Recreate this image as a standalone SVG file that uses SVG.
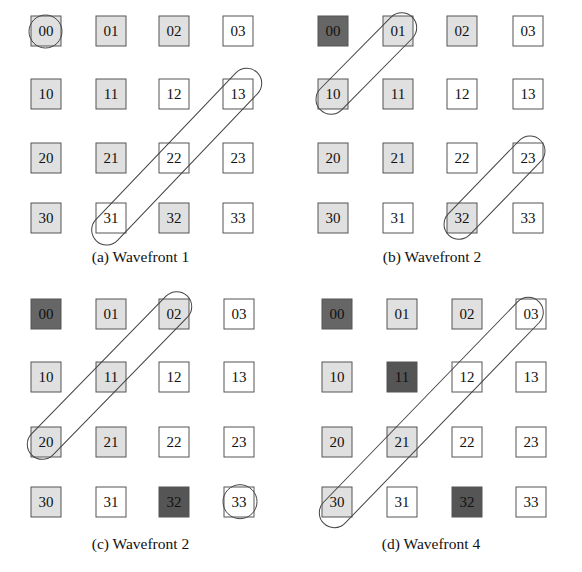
<svg xmlns="http://www.w3.org/2000/svg" width="582" height="572" viewBox="0 0 582 572">
<style>
rect.c{stroke:#555;stroke-width:1;width:30px;height:30px}
.w{fill:#fff}
.l{fill:#e0e0e0}
.d{fill:#666}
.dd{fill:#555}
text{font-family:"Liberation Serif","Times New Roman",serif;font-size:15px;fill:#111;text-anchor:middle}
text.cap{font-size:15.5px}
.wf{fill:none;stroke:#444;stroke-width:1}
</style>
<rect width="582" height="572" fill="#fff"/>
<!-- Panel a -->
<g id="panel-a">
<g id="a00"><rect class="c l" x="31" y="16" width="30" height="30"/><text x="46" y="36">00</text></g>
<g id="a01"><rect class="c l" x="96" y="16" width="30" height="30"/><text x="111" y="36">01</text></g>
<g id="a02"><rect class="c l" x="159" y="16" width="30" height="30"/><text x="174" y="36">02</text></g>
<g id="a03"><rect class="c w" x="223" y="16" width="30" height="30"/><text x="238" y="36">03</text></g>
<g id="a10"><rect class="c l" x="31" y="79" width="30" height="30"/><text x="46" y="99">10</text></g>
<g id="a11"><rect class="c l" x="96" y="79" width="30" height="30"/><text x="111" y="99">11</text></g>
<g id="a12"><rect class="c w" x="159" y="79" width="30" height="30"/><text x="174" y="99">12</text></g>
<g id="a13"><rect class="c w" x="223" y="79" width="30" height="30"/><text x="238" y="99">13</text></g>
<g id="a20"><rect class="c l" x="31" y="143" width="30" height="30"/><text x="46" y="163">20</text></g>
<g id="a21"><rect class="c l" x="96" y="143" width="30" height="30"/><text x="111" y="163">21</text></g>
<g id="a22"><rect class="c w" x="159" y="143" width="30" height="30"/><text x="174" y="163">22</text></g>
<g id="a23"><rect class="c w" x="223" y="143" width="30" height="30"/><text x="238" y="163">23</text></g>
<g id="a30"><rect class="c l" x="31" y="203" width="30" height="30"/><text x="46" y="223">30</text></g>
<g id="a31"><rect class="c w" x="96" y="203" width="30" height="30"/><text x="111" y="223">31</text></g>
<g id="a32"><rect class="c l" x="159" y="203" width="30" height="30"/><text x="174" y="223">32</text></g>
<g id="a33"><rect class="c w" x="223" y="203" width="30" height="30"/><text x="238" y="223">33</text></g>
<text class="cap" x="140.5" y="262">(a) Wavefront 1</text>
</g>
<!-- Panel b -->
<g id="panel-b">
<g id="b00"><rect class="c d" x="318" y="16" width="30" height="30"/><text x="333" y="36">00</text></g>
<g id="b01"><rect class="c l" x="383" y="16" width="30" height="30"/><text x="398" y="36">01</text></g>
<g id="b02"><rect class="c l" x="447" y="16" width="30" height="30"/><text x="462" y="36">02</text></g>
<g id="b03"><rect class="c w" x="513" y="16" width="30" height="30"/><text x="528" y="36">03</text></g>
<g id="b10"><rect class="c l" x="318" y="79" width="30" height="30"/><text x="333" y="99">10</text></g>
<g id="b11"><rect class="c l" x="383" y="79" width="30" height="30"/><text x="398" y="99">11</text></g>
<g id="b12"><rect class="c w" x="447" y="79" width="30" height="30"/><text x="462" y="99">12</text></g>
<g id="b13"><rect class="c w" x="513" y="79" width="30" height="30"/><text x="528" y="99">13</text></g>
<g id="b20"><rect class="c l" x="318" y="143" width="30" height="30"/><text x="333" y="163">20</text></g>
<g id="b21"><rect class="c l" x="383" y="143" width="30" height="30"/><text x="398" y="163">21</text></g>
<g id="b22"><rect class="c w" x="447" y="143" width="30" height="30"/><text x="462" y="163">22</text></g>
<g id="b23"><rect class="c w" x="513" y="143" width="30" height="30"/><text x="528" y="163">23</text></g>
<g id="b30"><rect class="c l" x="318" y="203" width="30" height="30"/><text x="333" y="223">30</text></g>
<g id="b31"><rect class="c w" x="383" y="203" width="30" height="30"/><text x="398" y="223">31</text></g>
<g id="b32"><rect class="c l" x="447" y="203" width="30" height="30"/><text x="462" y="223">32</text></g>
<g id="b33"><rect class="c w" x="513" y="203" width="30" height="30"/><text x="528" y="223">33</text></g>
<text class="cap" x="432" y="262">(b) Wavefront 2</text>
</g>
<!-- Panel c -->
<g id="panel-c">
<g id="c00"><rect class="c d" x="31" y="299" width="30" height="30"/><text x="46" y="319">00</text></g>
<g id="c01"><rect class="c l" x="96" y="299" width="30" height="30"/><text x="111" y="319">01</text></g>
<g id="c02"><rect class="c l" x="159" y="299" width="30" height="30"/><text x="174" y="319">02</text></g>
<g id="c03"><rect class="c w" x="224" y="299" width="30" height="30"/><text x="239" y="319">03</text></g>
<g id="c10"><rect class="c l" x="31" y="362" width="30" height="30"/><text x="46" y="382">10</text></g>
<g id="c11"><rect class="c l" x="96" y="362" width="30" height="30"/><text x="111" y="382">11</text></g>
<g id="c12"><rect class="c w" x="159" y="362" width="30" height="30"/><text x="174" y="382">12</text></g>
<g id="c13"><rect class="c w" x="224" y="362" width="30" height="30"/><text x="239" y="382">13</text></g>
<g id="c20"><rect class="c l" x="31" y="427" width="30" height="30"/><text x="46" y="447">20</text></g>
<g id="c21"><rect class="c l" x="96" y="427" width="30" height="30"/><text x="111" y="447">21</text></g>
<g id="c22"><rect class="c w" x="159" y="427" width="30" height="30"/><text x="174" y="447">22</text></g>
<g id="c23"><rect class="c w" x="224" y="427" width="30" height="30"/><text x="239" y="447">23</text></g>
<g id="c30"><rect class="c l" x="31" y="487" width="30" height="30"/><text x="46" y="507">30</text></g>
<g id="c31"><rect class="c w" x="96" y="487" width="30" height="30"/><text x="111" y="507">31</text></g>
<g id="c32"><rect class="c dd" x="159" y="487" width="30" height="30"/><text x="174" y="507">32</text></g>
<g id="c33"><rect class="c w" x="224" y="487" width="30" height="30"/><text x="239" y="507">33</text></g>
<text class="cap" x="140.5" y="549">(c) Wavefront 2</text>
</g>
<!-- Panel d -->
<g id="panel-d">
<g id="d00"><rect class="c d" x="322" y="299" width="30" height="30"/><text x="337" y="319">00</text></g>
<g id="d01"><rect class="c l" x="387" y="299" width="30" height="30"/><text x="402" y="319">01</text></g>
<g id="d02"><rect class="c l" x="452" y="299" width="30" height="30"/><text x="467" y="319">02</text></g>
<g id="d03"><rect class="c w" x="516" y="299" width="30" height="30"/><text x="531" y="319">03</text></g>
<g id="d10"><rect class="c l" x="322" y="362" width="30" height="30"/><text x="337" y="382">10</text></g>
<g id="d11"><rect class="c dd" x="387" y="362" width="30" height="30"/><text x="402" y="382">11</text></g>
<g id="d12"><rect class="c w" x="452" y="362" width="30" height="30"/><text x="467" y="382">12</text></g>
<g id="d13"><rect class="c w" x="516" y="362" width="30" height="30"/><text x="531" y="382">13</text></g>
<g id="d20"><rect class="c l" x="322" y="427" width="30" height="30"/><text x="337" y="447">20</text></g>
<g id="d21"><rect class="c l" x="387" y="427" width="30" height="30"/><text x="402" y="447">21</text></g>
<g id="d22"><rect class="c w" x="452" y="427" width="30" height="30"/><text x="467" y="447">22</text></g>
<g id="d23"><rect class="c w" x="516" y="427" width="30" height="30"/><text x="531" y="447">23</text></g>
<g id="d30"><rect class="c l" x="322" y="487" width="30" height="30"/><text x="337" y="507">30</text></g>
<g id="d31"><rect class="c w" x="387" y="487" width="30" height="30"/><text x="402" y="507">31</text></g>
<g id="d32"><rect class="c dd" x="452" y="487" width="30" height="30"/><text x="467" y="507">32</text></g>
<g id="d33"><rect class="c w" x="516" y="487" width="30" height="30"/><text x="531" y="507">33</text></g>
<text class="cap" x="431" y="549">(d) Wavefront 4</text>
</g>
<!-- Wavefront outlines -->
<g id="wavefronts">
<circle class="wf" cx="45.5" cy="31.5" r="16.5"/>
<rect class="wf" transform="translate(176.7,156.65) rotate(-46.33)" x="-116.4" y="-15" width="232.8" height="30" rx="15" ry="15"/>
<rect class="wf" transform="translate(366.35,63.5) rotate(-45.36)" x="-65.3" y="-15" width="130.6" height="30" rx="15" ry="15"/>
<rect class="wf" transform="translate(494.5,187.65) rotate(-45.92)" x="-66" y="-15" width="132" height="30" rx="15" ry="15"/>
<rect class="wf" transform="translate(109.5,375.5) rotate(-45.67)" x="-111.2" y="-15" width="222.4" height="30" rx="15" ry="15"/>
<circle class="wf" cx="240" cy="501.7" r="17"/>
<rect class="wf" transform="translate(431.3,412.5) rotate(-45.93)" x="-154.45" y="-15" width="308.9" height="30" rx="15" ry="15"/>
</g>
</svg>
